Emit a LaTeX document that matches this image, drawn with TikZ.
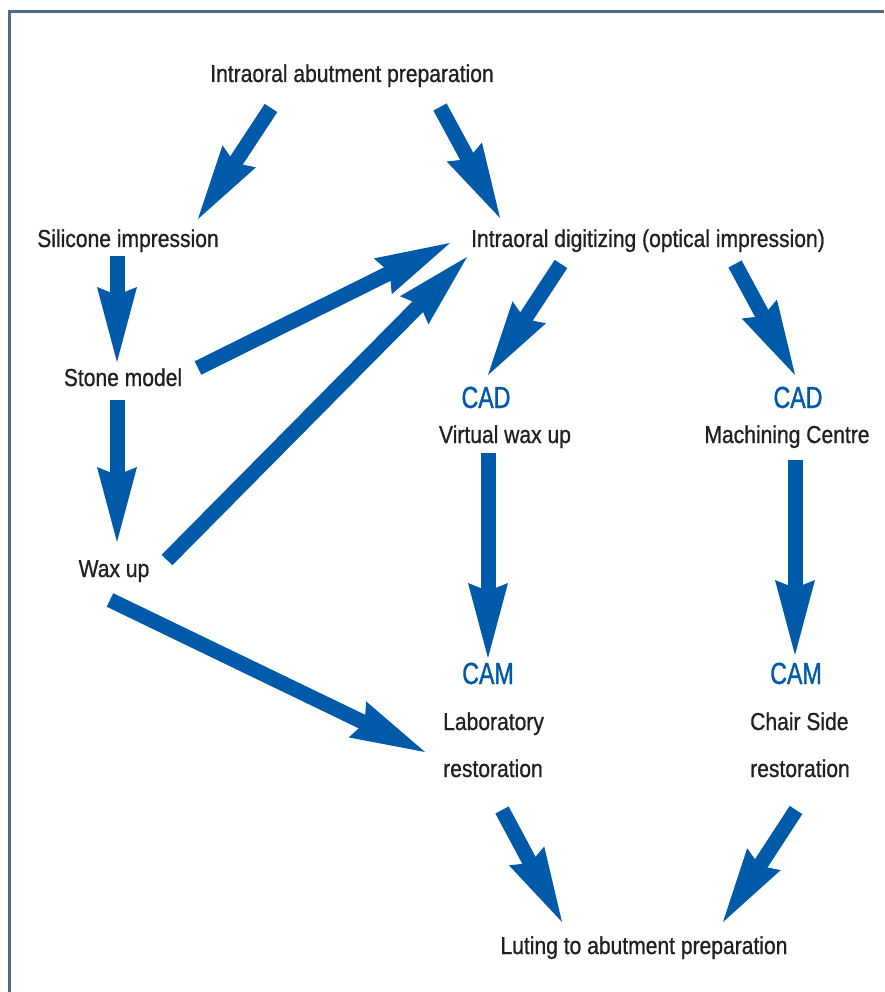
\documentclass[tikz,border=0pt]{standalone}
\usepackage{fontspec}
\setmainfont{Liberation Sans}[FakeStretch=0.86,FakeBold=0.8]
\newfontfamily\cadfont{Liberation Sans}[FakeStretch=0.76,FakeBold=1]
\usetikzlibrary{arrows.meta}
\definecolor{arrblue}{RGB}{0,90,170}
\definecolor{framec}{RGB}{80,105,135}
\definecolor{txt}{RGB}{35,31,32}
\begin{document}
\begin{tikzpicture}[x=1pt,y=-1pt,
  lbl/.style={anchor=base, inner sep=0pt, text=txt, font=\fontsize{24.5}{24.5}\selectfont},
  lblw/.style={lbl, anchor=base west},
  cad/.style={anchor=base, inner sep=0pt, text=arrblue, font=\cadfont\fontsize{30.5}{30.5}\selectfont},
  arr/.style={draw=arrblue, line width=15pt,
    -{Stealth[length=75pt,width=40pt,inset=8pt,line width=0pt,fill=arrblue]}}]
\useasboundingbox (0,0) rectangle (884,992);
\fill[white] (0,0) rectangle (884,992);
\draw[framec, line width=2.5pt] (9.5,992) -- (9.5,11.3) -- (884,11.3);

% text nodes
\node[lbl] (abut) at (352,82) {Intraoral abutment preparation};
\node[lbl] (sil) at (128,247) {Silicone impression};
\node[lbl] (dig) at (648,247) {Intraoral digitizing (optical impression)};
\node[lbl] (stone) at (123,386) {Stone model};
\node[cad] (cadl) at (486,408) {CAD};
\node[lbl] (vwax) at (505,443) {Virtual wax up};
\node[cad] (cadr) at (798,408) {CAD};
\node[lbl] (mach) at (787,443) {Machining Centre};
\node[lbl] (wax) at (114,577) {Wax up};
\node[cad] (caml) at (488,684) {CAM};
\node[lblw] (lab) at (443,730) {Laboratory};
\node[lblw] (restl) at (443,777) {restoration};
\node[cad] (camr) at (796,684) {CAM};
\node[lblw] (chair) at (750,730) {Chair Side};
\node[lblw] (restr) at (750,777) {restoration};
\node[lbl] (lut) at (644,954) {Luting to abutment preparation};

% connector end points
\coordinate (a1s) at (271,108);  \coordinate (a1e) at (198,219);
\coordinate (a2s) at (440,107);  \coordinate (a2e) at (500,218);
\coordinate (a3s) at (117,256);  \coordinate (a3e) at (117,362);
\coordinate (a4s) at (198,368);  \coordinate (a4e) at (450,243);
\coordinate (a5s) at (167,560);  \coordinate (a5e) at (467,257);
\coordinate (a6s) at (117,400);  \coordinate (a6e) at (117,542);
\coordinate (a7s) at (110,600);  \coordinate (a7e) at (425,752);
\coordinate (a8s) at (561,264);  \coordinate (a8e) at (488,375);
\coordinate (a9s) at (735,264);  \coordinate (a9e) at (795,375);
\coordinate (a10s) at (488,453); \coordinate (a10e) at (488,658);
\coordinate (a11s) at (795,460); \coordinate (a11e) at (795,655);
\coordinate (a12s) at (502,810); \coordinate (a12e) at (562,922);
\coordinate (a13s) at (796,810); \coordinate (a13e) at (723,922);

\draw[arr] (a1s) -- (a1e);
\draw[arr] (a2s) -- (a2e);
\draw[arr] (a3s) -- (a3e);
\draw[arr] (a4s) -- (a4e);
\draw[arr] (a5s) -- (a5e);
\draw[arr] (a6s) -- (a6e);
\draw[arr] (a7s) -- (a7e);
\draw[arr] (a8s) -- (a8e);
\draw[arr] (a9s) -- (a9e);
\draw[arr] (a10s) -- (a10e);
\draw[arr] (a11s) -- (a11e);
\draw[arr] (a12s) -- (a12e);
\draw[arr] (a13s) -- (a13e);
\end{tikzpicture}
\end{document}
